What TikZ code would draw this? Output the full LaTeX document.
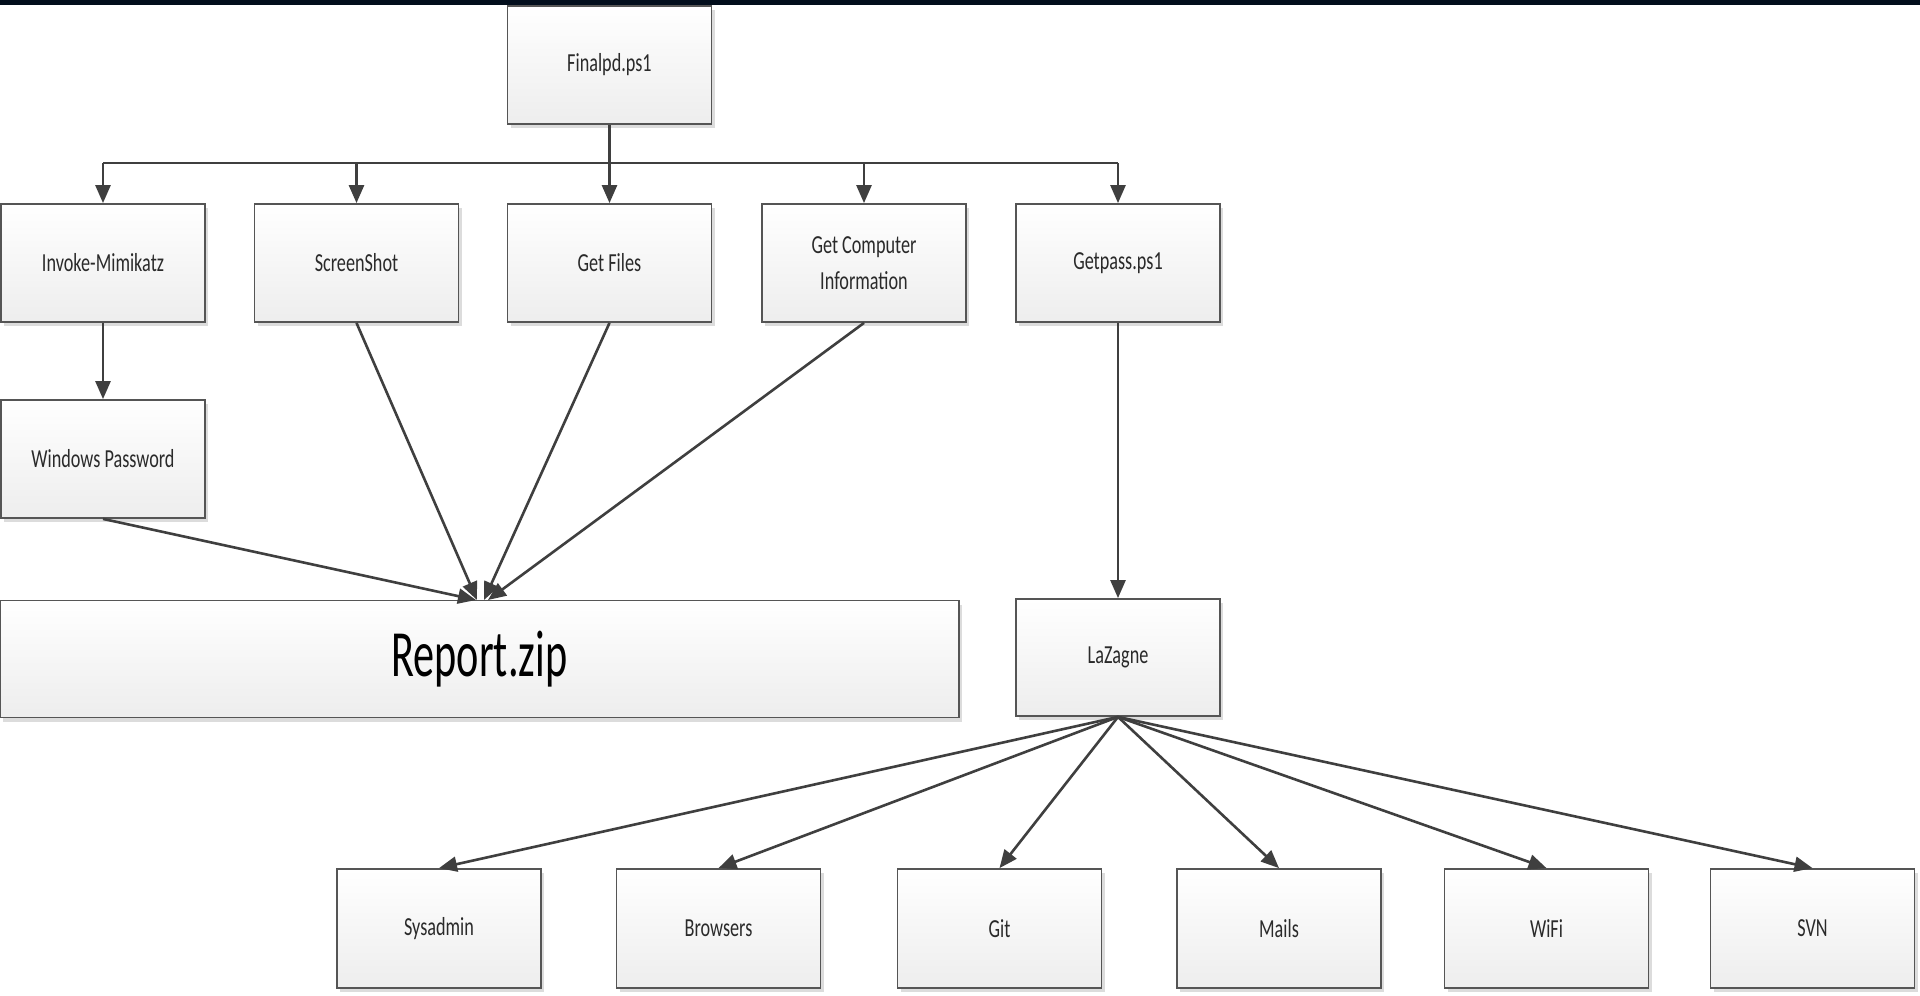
\documentclass[tikz,border=0pt]{standalone}
\usepackage{fontspec}
\newfontfamily\boxfont[FakeStretch=0.7]{Carlito}
\newfontfamily\repfont[FakeStretch=0.64]{Carlito}
\usetikzlibrary{arrows.meta,shadows}
\definecolor{bordc}{HTML}{555555}
\definecolor{arrc}{HTML}{3F3F3F}
\definecolor{txtc}{HTML}{2A2A2A}
\definecolor{bandc}{HTML}{020E1C}
\tikzset{
  box/.style={draw=bordc, line width=1.8pt, top color=white, bottom color=gray!14,
    minimum width=204pt, minimum height=118pt, inner sep=0pt, align=center,
    font=\boxfont\fontsize{26}{36}\selectfont, text=txtc,
    drop shadow={shadow xshift=3pt, shadow yshift=-4pt, fill=gray!45, opacity=0.6}},
  conn/.style={draw=arrc, line width=2.6pt},
  arr/.style={conn, -{Triangle[length=18pt,width=15pt]}},
}
\begin{document}
\begin{tikzpicture}[x=1pt,y=-1pt]
\useasboundingbox (0,0) rectangle (1920,996);
\fill[white] (0,0) rectangle (1920,996);
\fill[bandc] (0,0) rectangle (1920,5);
% nodes
\node[box] (fin) at (609.5,65) {Finalpd.ps1};
\node[box] (inv) at (103,263) {Invoke-Mimikatz};
\node[box] (scr) at (356.5,263) {ScreenShot};
\node[box] (gf) at (609.5,263) {Get Files};
\node[box] (gci) at (864,263) {Get Computer\\Information};
\node[box] (gp) at (1118,263) {Getpass.ps1};
\node[box] (wp) at (103,459) {Windows Password};
\node[box, minimum width=959pt, minimum height=117pt, font=\repfont\fontsize{66}{70}\selectfont, text=black] (rep) at (479.5,659) {Report.zip};
\node[box, minimum height=117pt] (laz) at (1118,657.5) {LaZagne};
\node[box, minimum height=119pt] (sys) at (439,928.5) {Sysadmin};
\node[box, minimum height=119pt] (bro) at (718.5,928.5) {Browsers};
\node[box, minimum height=119pt] (git) at (999.5,928.5) {Git};
\node[box, minimum height=119pt] (mai) at (1279,928.5) {Mails};
\node[box, minimum height=119pt] (wif) at (1546.5,928.5) {WiFi};
\node[box, minimum height=119pt] (svn) at (1812.5,928.5) {SVN};
% bus
\coordinate (bus) at (609.5,163);
\draw[conn] (fin.south) -- (bus);
\draw[conn] (inv.north |- bus) -- (gp.north |- bus);
\foreach \n in {inv,scr,gf,gci,gp}
  \draw[arr] (\n.north |- bus) -- (\n.north);
\draw[arr] (inv.south) -- (wp.north);
\draw[arr] (gp.south) -- (laz.north);
% to report
\coordinate (t1) at (476,600);
\coordinate (t2) at (477,600);
\coordinate (t3) at (484,600);
\coordinate (t4) at (488,600);
\draw[arr] (wp.south) -- (t1);
\draw[arr] (scr.south) -- (t2);
\draw[arr] (gf.south) -- (t3);
\draw[arr] (gci.south) -- (t4);
% lazagne fan
\foreach \n in {sys,bro,git,mai,wif,svn}
  \draw[arr] (laz.south) -- (\n.north);
\end{tikzpicture}
\end{document}
